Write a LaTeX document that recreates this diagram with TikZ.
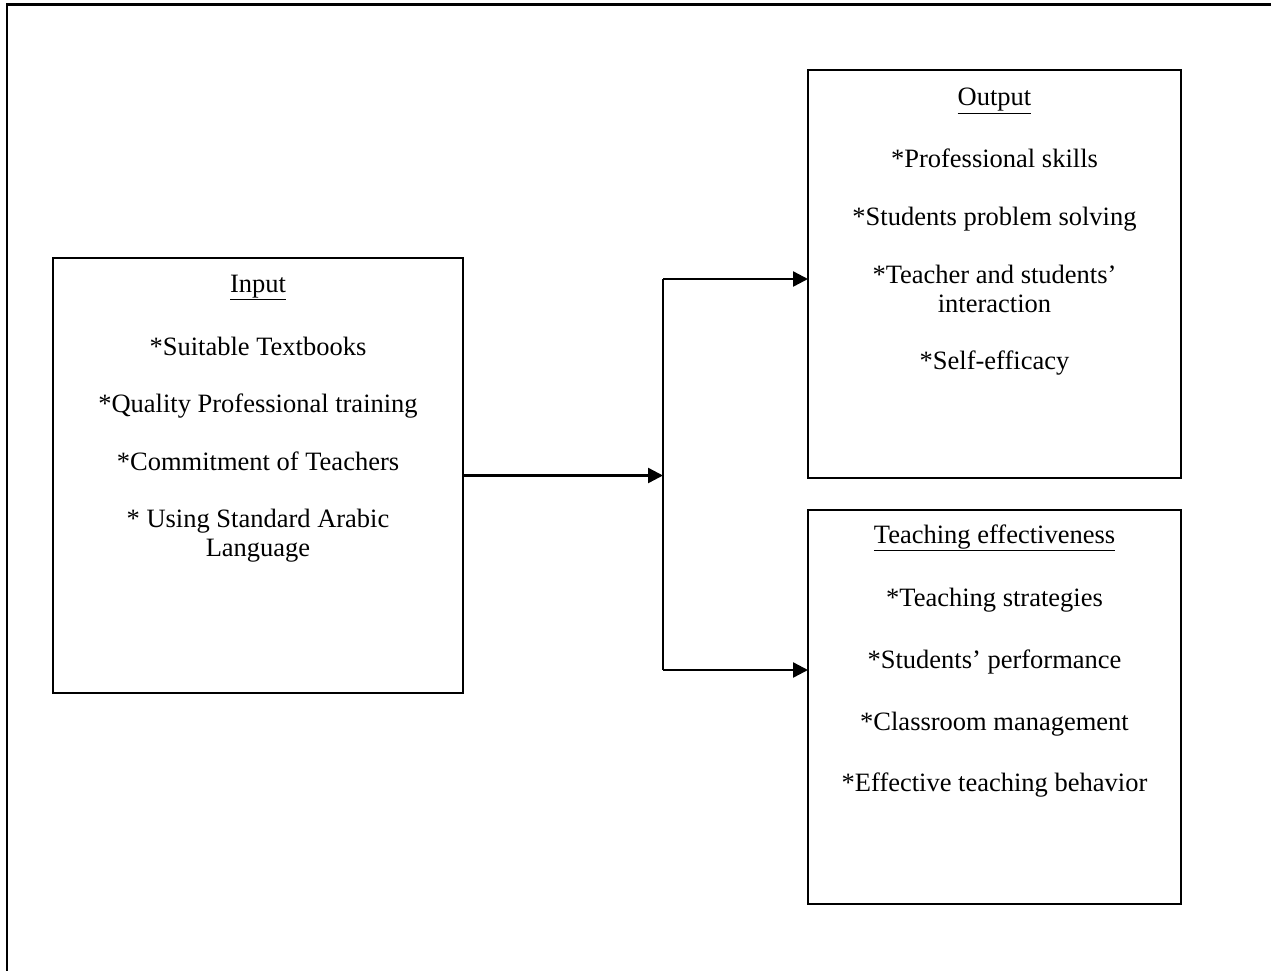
\documentclass[tikz,border=0pt]{standalone}
\usepackage{fontspec}
\setmainfont{Liberation Serif}
\usetikzlibrary{arrows.meta}
\begin{document}
\begin{tikzpicture}[x=1pt,y=-1pt,
  box/.style={draw, line width=2.4pt, inner sep=0pt, outer sep=0pt},
  txt/.style={anchor=base, inner sep=0pt, font=\fontsize{26.5}{30}\selectfont},
  arr/.style={line width=2.4pt, -{Triangle[length=15pt,width=15pt]}},
  ln/.style={line width=2.4pt},
  frameline/.style={line width=2.6pt}]
\useasboundingbox (0,0) rectangle (1271,971);
% outer frame (only left and top edges visible)
\coordinate (fa) at (7,972);
\coordinate (fb) at (7,4.5);
\coordinate (fc) at (1272,4.5);
\draw[frameline] (fa) -- (fb) -- (fc);
% boxes
\node[box, minimum width=410pt, minimum height=435pt] (in) at (258,475.5) {};
\node[box, minimum width=373pt, minimum height=408pt] (out) at (994.5,274) {};
\node[box, minimum width=373pt, minimum height=394pt] (te) at (994.5,707) {};
% input text
\node[txt] (i0) at (258,292) {\underline{Input}};
\node[txt] (i1) at (258,355) {*Suitable Textbooks};
\node[txt] (i2) at (258,412) {*Quality Professional training};
\node[txt] (i3) at (258,470) {*Commitment of Teachers};
\node[txt] (i4) at (258,527) {* Using Standard Arabic};
\node[txt] (i5) at (258,556) {Language};
% output text
\node[txt] (o0) at (994.5,106) {\underline{Output}};
\node[txt] (o1) at (994.5,167) {*Professional skills};
\node[txt] (o2) at (994.5,225) {*Students problem solving};
\node[txt] (o3) at (994.5,283) {*Teacher and students’};
\node[txt] (o4) at (994.5,312) {interaction};
\node[txt] (o5) at (994.5,369) {*Self-efficacy};
% teaching text
\node[txt] (t0) at (994.5,543) {\underline{Teaching effectiveness}};
\node[txt] (t1) at (994.5,606) {*Teaching strategies};
\node[txt] (t2) at (994.5,668) {*Students’ performance};
\node[txt] (t3) at (994.5,730) {*Classroom management};
\node[txt] (t4) at (994.5,791) {*Effective teaching behavior};
% connectors
\coordinate (j) at (663,477);
\coordinate (jt) at (663,279);
\coordinate (jb) at (663,670);
\draw[arr] (in.east) -- (in.east -| j);
\draw[ln] (jt) -- (jb);
\draw[arr] (jt) -- (jt -| out.west);
\draw[arr] (jb) -- (jb -| te.west);
\end{tikzpicture}
\end{document}
